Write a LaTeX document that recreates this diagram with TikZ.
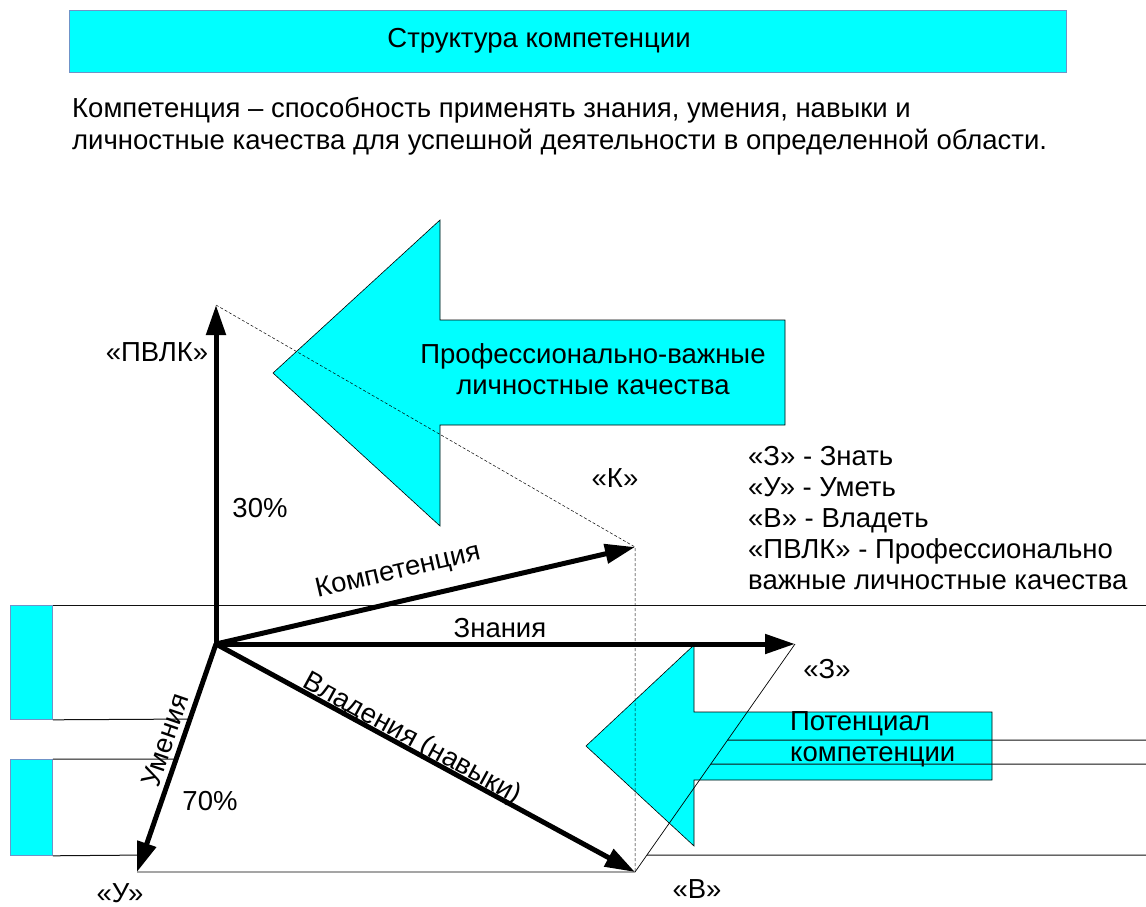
\documentclass[tikz,border=0pt]{standalone}
\usepackage{fontspec}
\setmainfont{Liberation Sans}
\usetikzlibrary{arrows.meta, positioning}
\definecolor{Aqua}{HTML}{00FFFF}
\definecolor{Frame}{HTML}{6F93C8}
\definecolor{Rule}{HTML}{111111}

\begin{document}
\begin{tikzpicture}[x=1pt, y=-1pt,
    vec/.style={-{Triangle[length=30pt, width=19pt]}, line width=5pt},
    lbl/.style={font=\fontsize{27.5}{31}\selectfont, inner sep=0pt},
    bigarrow/.style={draw=black, line width=0.6pt, fill=Aqua},
    sidebox/.style={draw=Frame, line width=0.8pt, fill=Aqua},
    rule/.style={draw=Rule, line width=1pt},
    guide/.style={line width=0.5pt, dash pattern=on 3pt off 2pt}
]
\useasboundingbox (0,0) rectangle (1146,906);

% === Title and definition ===
\node[sidebox, minimum width=997pt, minimum height=62pt, inner sep=0pt] (title) at (567.5,41) {};
\node[lbl] (titletext) at (539,41) {Структура компетенции};
\node[lbl, anchor=north west, align=left, font=\fontsize{27.5}{32.5}\selectfont] (defn) at (72,97)
    {Компетенция – способность применять знания, умения, навыки и\\
     личностные качества для успешной деятельности в определенной области.};

% === Table edges at the sides ===
\coordinate (O) at (216,644);
\coordinate (P) at (216,305);
\coordinate (Z) at (795,644);
\coordinate (V) at (635,872);
\coordinate (U) at (137,872);
\coordinate (K) at (635,547);

\draw[rule] (10,605) -- (1146,605);
\node[sidebox, anchor=north west, minimum width=42pt, minimum height=114pt, inner sep=0pt] (boxa) at (10,605) {};
\node[sidebox, anchor=north west, minimum width=42pt, minimum height=96pt, inner sep=0pt] (boxb) at (10,759) {};
\draw[rule] (boxa.south east) -- (intersection of O--U and 0,719--10,719);
\draw[rule] (boxb.north east) -- (intersection of O--U and 0,759--10,759);
\draw[rule] (boxb.south east) -- (intersection of O--U and 0,855--10,855);
\draw[rule] (intersection of Z--V and 0,855--10,855) -- (1146,855);

% === Big arrows ===
\draw[bigarrow] (273,373) -- (440,220) -- (440,320) -- (785,320) -- (785,425)
    -- (440,425) -- (440,526) -- cycle;
\node[lbl, align=center] (pvk) at (593,369) {Профессионально-важные\\личностные качества};

\draw[bigarrow] (586,746) -- (694,645) -- (694,712) -- (992,712) -- (992,780)
    -- (694,780) -- (694,846) -- cycle;
\node[lbl, align=left, anchor=west] (pot) at (790,739) {Потенциал\\компетенции};
\draw[rule] (intersection of Z--V and 0,740--10,740) -- (1146,740);
\draw[rule] (intersection of Z--V and 0,764--10,764) -- (1146,764);

% === Construction lines ===
\draw[guide] (P) -- (K) -- (V);
\draw[line width=0.7pt] (U) -- (V) -- (Z);

% === Vectors ===
\draw[vec] (O) -- (P);
\draw[vec] (O) -- (Z);
\draw[vec] (O) -- (K);
\draw[vec] (O) -- (V);
\draw[vec] (O) -- (U);

\node[lbl] (zn) at (500,628) {Знания};
\node[lbl, rotate=13] (komp) at (398,572) {Компетенция};
\node[lbl, rotate=-28.6] (vlad) at (412,739) {Владения (навыки)};
\node[lbl, rotate=71] (um) at (165,740) {Умения};

% === Axis labels ===
\node[lbl] (lp) at (157,352) {«ПВЛК»};
\node[lbl] (lk) at (615,478) {«К»};
\node[lbl] (lz) at (827,669) {«З»};
\node[lbl] (lu) at (120,893) {«У»};
\node[lbl] (lv) at (697,889) {«В»};
\node[lbl] (p30) at (260,508) {30\%};
\node[lbl] (p70) at (210,801) {70\%};

% === Legend ===
\node[lbl, anchor=north west, align=left] (legend) at (748,446)
    {«З» - Знать\\«У» - Уметь\\«В» - Владеть\\«ПВЛК» - Профессионально\\важные личностные качества};
\end{tikzpicture}
\end{document}
